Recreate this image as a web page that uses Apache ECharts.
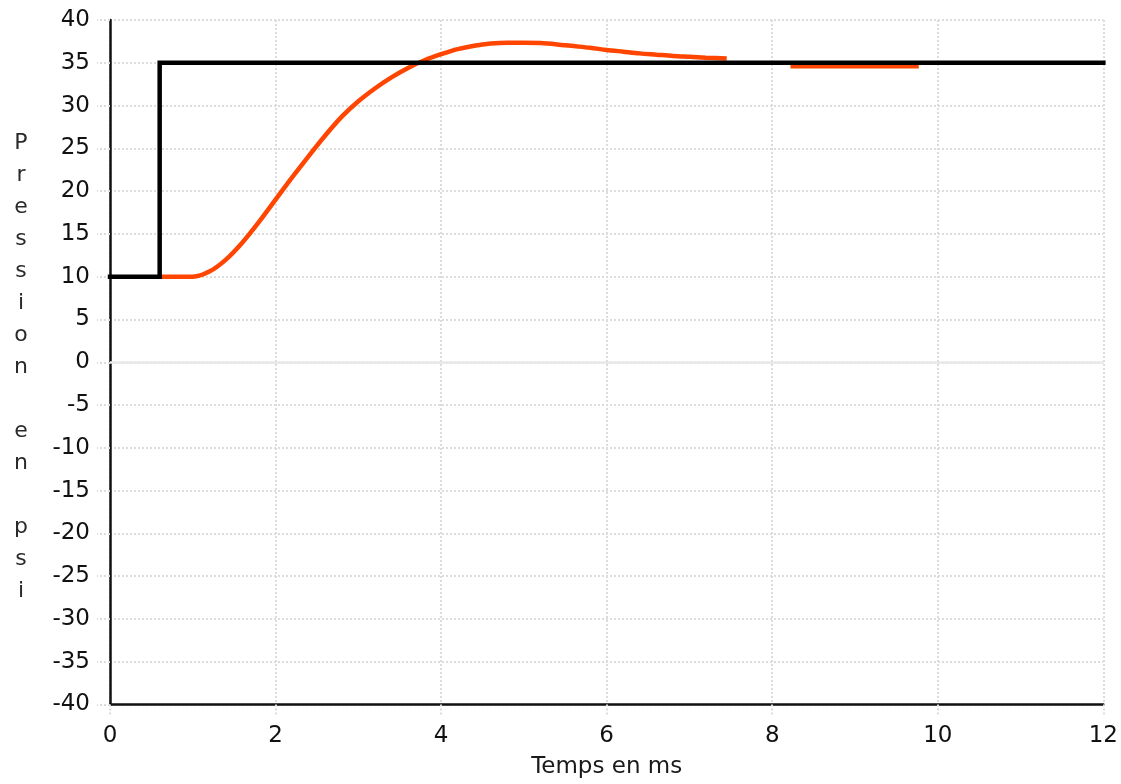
<!DOCTYPE html>
<html>
<head>
<meta charset="utf-8">
<script src="https://cdn.jsdelivr.net/npm/echarts@6/dist/echarts.min.js"></script>
<style>
html,body{margin:0;padding:0;background:#fff;}
#chart{width:1121px;height:784px;}
</style>
</head>
<body>
<div id="chart"></div>
<script>
// Setpoint (black step)
var setX = [0, 0.6, 0.6, 12];
var setY = [10, 10, 35, 35];
// Measured pressure response (orange), first segment
var respX = [0.6, 1.0, 1.2, 1.4, 1.6, 1.8, 2.0, 2.2, 2.4, 2.6, 2.8, 3.0, 3.2, 3.4, 3.6, 3.8, 4.0, 4.2, 4.4, 4.6, 4.8, 5.0, 5.2, 5.4, 5.6, 5.8, 6.0, 6.2, 6.4, 6.6, 6.8, 7.0, 7.2, 7.45];
var respY = [10, 10, 10.6, 12.0, 14.0, 16.4, 19.0, 21.6, 24.1, 26.5, 28.7, 30.5, 32.0, 33.3, 34.4, 35.3, 36.0, 36.6, 37.0, 37.25, 37.35, 37.35, 37.3, 37.15, 36.95, 36.75, 36.5, 36.3, 36.1, 35.95, 35.8, 35.7, 35.6, 35.5];
// Second orange segment
var resp2X = [8.22, 9.77];
var resp2Y = [34.6, 34.6];
var xTitle = 'Temps en ms';
var yTitle = ['P','r','e','s','s','i','o','n',' ','e','n',' ','p','s','i'];

function pairs(xs, ys){ return xs.map(function(x,i){ return [x, ys[i]]; }); }

var gridLine = {color:'#dcdcdc', width:2, type:[2,2]};
var font = 'DejaVu Sans';

var chart = echarts.init(document.getElementById('chart'));
chart.setOption({
  animation:false,
  backgroundColor:'#fff',
  grid:{left:110, right:16, top:20, bottom:79},
  graphic:[{
    type:'text', x:21, y:127, silent:true,
    style:{text:yTitle.join('\n'), x:0, y:0, fontFamily:font, fontSize:22, fill:'#2a2a2a', align:'center', verticalAlign:'top', lineHeight:32}
  }],
  xAxis:{
    type:'value', min:0, max:12, interval:2,
    name:xTitle, nameLocation:'middle', nameGap:63,
    nameTextStyle:{fontFamily:font, fontSize:23, color:'#1a1a1a', verticalAlign:'middle'},
    axisLine:{show:true, onZero:false, lineStyle:{color:'#111', width:2.5}},
    axisTick:{show:true, length:11, lineStyle:gridLine},
    axisLabel:{fontFamily:font, fontSize:23, color:'#111', margin:20},
    splitLine:{show:true, lineStyle:gridLine}
  },
  yAxis:{
    type:'value', min:-40, max:40, interval:5,
    axisLine:{show:true, onZero:false, lineStyle:{color:'#111', width:2.5}},
    axisTick:{show:true, length:13, lineStyle:gridLine},
    axisLabel:{fontFamily:font, fontSize:23, color:'#111', margin:20},
    splitLine:{show:true, lineStyle:gridLine}
  },
  series:[
    {
      type:'line', data:pairs(respX, respY), smooth:0.3, showSymbol:false, z:2,
      lineStyle:{color:'#ff4500', width:4.5},
      markLine:{silent:true, symbol:'none', label:{show:false},
        lineStyle:{color:'#e8e8e8', width:2.5, type:'solid'},
        data:[{yAxis:0}]}
    },
    {
      type:'line', data:pairs(resp2X, resp2Y), showSymbol:false, z:2,
      lineStyle:{color:'#ff4500', width:4.5}
    },
    {
      type:'line', data:pairs(setX, setY), showSymbol:false, z:3,
      lineStyle:{color:'#000', width:4.5, cap:'square', join:'miter'}
    }
  ]
});
</script>
</body>
</html>
